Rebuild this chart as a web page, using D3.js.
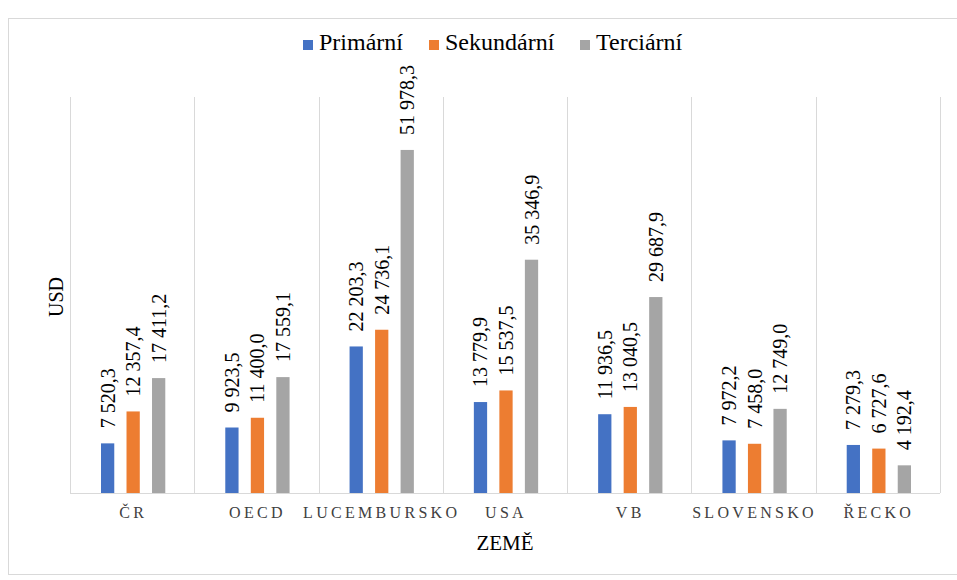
<!DOCTYPE html>
<html>
<head>
<meta charset="utf-8">
<script src="https://cdn.jsdelivr.net/npm/d3@7"></script>
<style>
body { margin: 0; background: #fff; }
</style>
</head>
<body>
<svg id="chart" width="957" height="580"></svg>
<script>
var categories = ['ČR', 'OECD', 'LUCEMBURSKO', 'USA', 'VB', 'SLOVENSKO', 'ŘECKO'];
var seriesNames = ['Primární', 'Sekundární', 'Terciární'];
var primarni = [7520.3, 9923.5, 22203.3, 13779.9, 11936.5, 7972.2, 7279.3];
var sekundarni = [12357.4, 11400.0, 24736.1, 15537.5, 13040.5, 7458.0, 6727.6];
var terciarni = [17411.2, 17559.1, 51978.3, 35346.9, 29687.9, 12749.0, 4192.4];
var colors = ['#4472C4', '#ED7D31', '#A5A5A5'];

var FONT = '"Liberation Serif", "Times New Roman", serif';

function draw() {
    var series = [primarni, sekundarni, terciarni];
    var svg = d3.select('#chart');
    var mLeft = 70, mRight = 940, mTop = 97, mBottom = 493;

    var cz = d3.formatLocale({decimal: ',', thousands: '\u00a0', grouping: [3], currency: ['', ' Kč']});
    var fmt = cz.format(',.1f');

    // frame
    svg.append('rect')
        .attr('x', 8.5).attr('y', 18.5)
        .attr('width', 960).attr('height', 556)
        .attr('fill', 'none').attr('stroke', '#d9d9d9');

    var x = d3.scaleBand().domain(categories).range([mLeft, mRight]);
    var x1 = d3.scaleBand().domain(d3.range(3)).range([31, x.bandwidth() - 29]).paddingInner(0.48);
    var y = d3.scaleLinear().domain([0, 60000]).range([mBottom, mTop]);

    // category separators
    svg.append('g').selectAll('line')
        .data(d3.range(categories.length + 1))
        .join('line')
        .attr('x1', function(i) { return Math.round(mLeft + i * x.step()) + 0.5; })
        .attr('x2', function(i) { return Math.round(mLeft + i * x.step()) + 0.5; })
        .attr('y1', mTop).attr('y2', mBottom)
        .attr('stroke', '#d9d9d9');

    var groups = svg.append('g').selectAll('g')
        .data(categories)
        .join('g')
        .attr('transform', function(d) { return 'translate(' + x(d) + ',0)'; });

    groups.each(function(c, ci) {
        var g = d3.select(this);
        for (var s = 0; s < 3; s++) {
            var v = series[s][ci];
            g.append('rect')
                .attr('x', x1(s))
                .attr('y', y(v))
                .attr('width', x1.bandwidth())
                .attr('height', mBottom - y(v))
                .attr('fill', colors[s]);
            var lx = x1(s) + x1.bandwidth() / 2 + 7;
            var ly = y(v) - 15;
            g.append('text')
                .attr('transform', 'translate(' + lx + ',' + ly + ') rotate(-90)')
                .attr('font-size', 20)
                .style('font-family', FONT)
                .attr('fill', '#000')
                .text(fmt(v));
        }
    });

    // baseline
    svg.append('line')
        .attr('x1', mLeft).attr('x2', mRight)
        .attr('y1', mBottom + 0.5).attr('y2', mBottom + 0.5)
        .attr('stroke', '#d9d9d9');

    // x tick labels
    svg.append('g').selectAll('text')
        .data(categories)
        .join('text')
        .attr('x', function(d) { return x(d) + x.bandwidth() / 2 + 1; })
        .attr('y', 518)
        .attr('text-anchor', 'middle')
        .attr('font-size', 16)
        .attr('letter-spacing', 3.3)
        .style('font-family', FONT)
        .attr('fill', '#404040')
        .text(function(d) { return d; });

    // axis titles
    svg.append('text')
        .attr('x', 505).attr('y', 550)
        .attr('text-anchor', 'middle')
        .attr('font-size', 21)
        .style('font-family', FONT)
        .text('ZEMĚ');

    svg.append('text')
        .attr('transform', 'translate(63,297) rotate(-90)')
        .attr('text-anchor', 'middle')
        .attr('font-size', 20)
        .style('font-family', FONT)
        .text('USD');

    // legend
    var legendX = [303, 429, 580];
    var legend = svg.append('g').selectAll('g')
        .data(seriesNames)
        .join('g')
        .attr('transform', function(d, i) { return 'translate(' + legendX[i] + ',40)'; });
    legend.append('rect')
        .attr('width', 10).attr('height', 10)
        .attr('fill', function(d, i) { return colors[i]; });
    legend.append('text')
        .attr('x', 16).attr('y', 10)
        .attr('font-size', 24)
        .style('font-family', FONT)
        .text(function(d) { return d; });
}

draw();
</script>
</body>
</html>
